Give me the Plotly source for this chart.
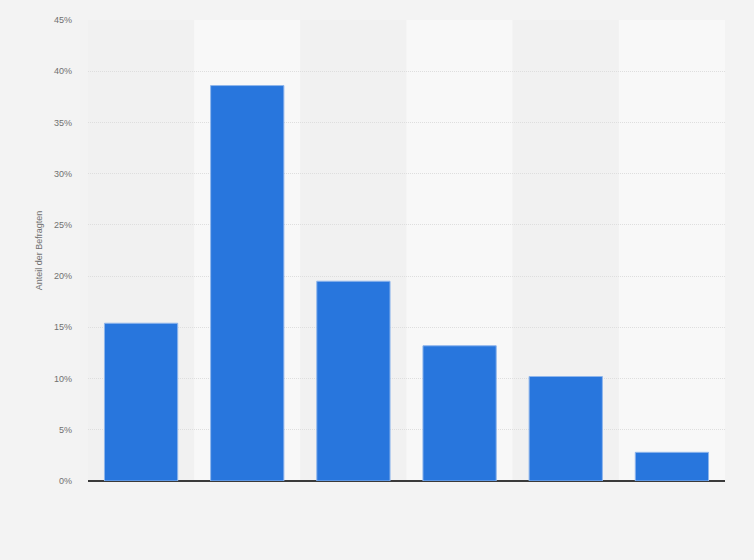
import plotly.graph_objects as go

categories = ["1", "2", "3", "4", "5", "6"]
shares = [15.4, 38.6, 19.5, 13.2, 10.2, 2.8]
y_ticks = [0, 5, 10, 15, 20, 25, 30, 35, 40, 45]
y_tick_labels = ["0%", "5%", "10%", "15%", "20%", "25%", "30%", "35%", "40%", "45%"]

fig = go.Figure(go.Bar(
    x=list(range(len(categories))),
    y=shares,
    marker_color="#2876dd",
    marker_line=dict(color="#8fb6ec", width=1),
    hovertext=categories,
))

# alternating column bands behind the bars
for i in range(len(categories)):
    fig.add_shape(
        type="rect", xref="x", yref="paper", layer="below",
        x0=i - 0.5, x1=i + 0.5, y0=0, y1=1,
        fillcolor="#f1f1f1" if i % 2 == 0 else "#f8f8f8",
        line_width=0,
    )

fig.update_layout(
    width=754, height=560,
    margin=dict(l=88, r=29, t=20, b=79),
    paper_bgcolor="#f3f3f3",
    plot_bgcolor="#f3f3f3",
    bargap=0.31,
    showlegend=False,
    font=dict(family="Arial, Liberation Sans, sans-serif", size=9, color="#707070"),
)
fig.update_xaxes(
    range=[-0.5, len(categories) - 0.5],
    showticklabels=False, showgrid=False, zeroline=False,
    showline=False, ticks="",
)
fig.update_yaxes(
    range=[0, 45], tickvals=y_ticks, ticktext=y_tick_labels,
    showgrid=True, gridcolor="#dedede", griddash="1px,1px", gridwidth=1,
    zeroline=True, zerolinecolor="#3a3a3a", zerolinewidth=1.6,
    ticks="", ticklabelstandoff=15,
    title=dict(text="Anteil der Befragten", font=dict(size=9, color="#707070"), standoff=9),
)

fig.write_html("out.html", config={"displayModeBar": False},
               post_script="document.body.style.margin='0';")
